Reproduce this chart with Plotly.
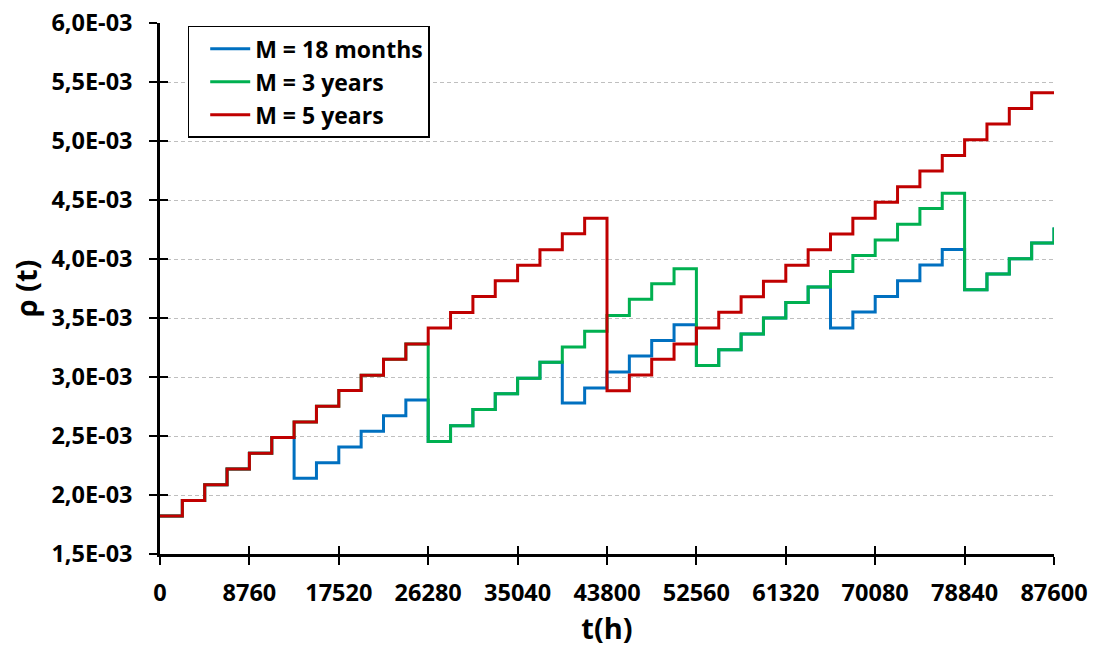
import plotly.graph_objects as go

# Quarter boundaries (hours)
hours = [0, 2190, 4380, 6570, 8760, 10950, 13140, 15330, 17520, 19710, 21900, 24090,
         26280, 28470, 30660, 32850, 35040, 37230, 39420, 41610, 43800, 45990, 48180,
         50370, 52560, 54750, 56940, 59130, 61320, 63510, 65700, 67890, 70080, 72270,
         74460, 76650, 78840, 81030, 83220, 85410, 87600]

# rho(t) levels in units of 1E-03 (one per quarter, last value = end point)
rho_18_months = [1.822, 1.954, 2.087, 2.220, 2.354, 2.487,
                 2.141, 2.274, 2.407, 2.540, 2.671, 2.805,
                 2.454, 2.587, 2.724, 2.858, 2.990, 3.124,
                 2.780, 2.907, 3.043, 3.178, 3.310, 3.443,
                 3.098, 3.231, 3.364, 3.500, 3.632, 3.762,
                 3.415, 3.550, 3.682, 3.816, 3.950, 4.081,
                 3.740, 3.873, 4.003, 4.135, 4.268]

rho_3_years = [1.822, 1.954, 2.087, 2.220, 2.354, 2.487, 2.619, 2.752, 2.885, 3.015, 3.150, 3.280,
               2.454, 2.587, 2.724, 2.858, 2.990, 3.124, 3.254, 3.387, 3.521, 3.658, 3.790, 3.917,
               3.098, 3.231, 3.364, 3.500, 3.632, 3.762, 3.895, 4.030, 4.161, 4.294, 4.427, 4.557,
               3.740, 3.873, 4.003, 4.135, 4.268]

rho_5_years = [1.822, 1.954, 2.087, 2.220, 2.354, 2.487, 2.619, 2.752, 2.885, 3.015,
               3.150, 3.280, 3.415, 3.547, 3.682, 3.815, 3.946, 4.079, 4.213, 4.345,
               2.884, 3.016, 3.150, 3.280, 3.415, 3.549, 3.681, 3.812, 3.946, 4.079,
               4.212, 4.345, 4.480, 4.613, 4.746, 4.877, 5.011, 5.144, 5.276, 5.409,
               5.409]

series_names = ["M = 18 months", "M = 3 years", "M = 5 years"]
series_colors = ["#0070C0", "#00B050", "#C00000"]

x_tickvals = [0, 8760, 17520, 26280, 35040, 43800, 52560, 61320, 70080, 78840, 87600]
x_ticktext = ["0", "8760", "17520", "26280", "35040", "43800", "52560", "61320", "70080", "78840", "87600"]
y_tickvals = [1.5e-3, 2.0e-3, 2.5e-3, 3.0e-3, 3.5e-3, 4.0e-3, 4.5e-3, 5.0e-3, 5.5e-3, 6.0e-3]
y_ticktext = ["1,5E-03", "2,0E-03", "2,5E-03", "3,0E-03", "3,5E-03",
              "4,0E-03", "4,5E-03", "5,0E-03", "5,5E-03", "6,0E-03"]

FONT = "Open Sans"
fig = go.Figure()
for name, vals, col in zip(series_names, [rho_18_months, rho_3_years, rho_5_years], series_colors):
    fig.add_trace(go.Scatter(
        x=hours, y=[v * 1e-3 for v in vals], mode="lines", name=name,
        line=dict(color=col, width=3, shape="hv")))

# helper trace for the inner half of the crossing tick marks
fig.add_trace(go.Scatter(x=[None], y=[None], xaxis="x2", yaxis="y2",
                         showlegend=False, hoverinfo="skip"))

tickfont = dict(family=FONT, size=23.5, color="black", weight="bold")
fig.update_layout(
    width=1094, height=650,
    margin=dict(l=160, r=40, t=23, b=96, autoexpand=False),
    plot_bgcolor="white", paper_bgcolor="white",
    font=dict(family=FONT, color="black"),
    xaxis=dict(range=[0, 87600], tickvals=x_tickvals, ticktext=x_ticktext, automargin=False,
               showgrid=False, zeroline=False, showline=True, linecolor="black",
               linewidth=2.5, ticks="outside", ticklen=8, tickwidth=2, tickcolor="black",
               tickfont=tickfont, ticklabelstandoff=8,
               title=dict(text="t(h)", font=dict(family=FONT, size=29, weight="bold", color="black"),
                          standoff=10)),
    yaxis=dict(range=[1.5e-3, 6.0e-3], tickvals=y_tickvals, ticktext=y_ticktext, automargin=False,
               showgrid=True, gridcolor="#BFBFBF", gridwidth=1, griddash="4px,3px",
               zeroline=False, showline=True, linecolor="black", linewidth=2.5,
               ticks="outside", ticklen=8, tickwidth=2, tickcolor="black",
               tickfont=tickfont, ticklabelstandoff=12,
               title=dict(text="ρ (t)", font=dict(family=FONT, size=29, weight="bold", color="black"),
                          standoff=6)),
    xaxis2=dict(overlaying="x", anchor="y", side="bottom", range=[0, 87600], automargin=False,
                tickvals=x_tickvals, showticklabels=False, showgrid=False, zeroline=False,
                showline=False, ticks="inside", ticklen=8, tickwidth=2, tickcolor="black"),
    yaxis2=dict(overlaying="y", anchor="x", side="left", range=[1.5e-3, 6.0e-3], automargin=False,
                tickvals=y_tickvals, showticklabels=False, showgrid=False, zeroline=False,
                showline=False, ticks="inside", ticklen=8, tickwidth=2, tickcolor="black"),
    legend=dict(x=0.031, y=0.9945, xanchor="left", yanchor="top",
                bgcolor="white", bordercolor="black", borderwidth=1.5,
                font=dict(family=FONT, size=23, color="black", weight="bold"),
                tracegroupgap=0, itemwidth=40, indentation=16),
    showlegend=True,
)

fig.write_html("out.html", config={"displayModeBar": False},
               post_script="document.body.style.margin='0px';")
